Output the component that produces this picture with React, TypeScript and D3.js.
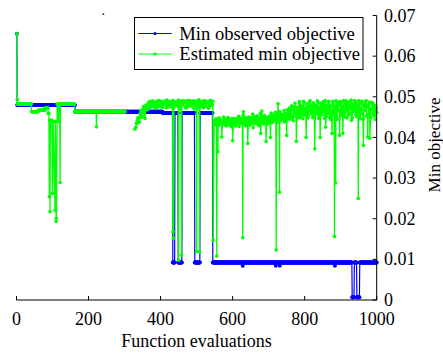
import React from 'react';
import * as d3 from 'd3';

// ---------- data ----------
const xDomain: [number, number] = [0, 1000];
const yDomain: [number, number] = [0, 0.07];
const xTickValues = [0, 200, 400, 600, 800, 1000];
const xTickLabels = ['0', '200', '400', '600', '800', '1000'];
const yTickValues = [0, 0.01, 0.02, 0.03, 0.04, 0.05, 0.06, 0.07];
const yTickLabels = ['0', '0.01', '0.02', '0.03', '0.04', '0.05', '0.06', '0.07'];
const seriesNames = ['Min observed objective', 'Estimated min objective'];
const xLabel = 'Function evaluations';
const yLabel = 'Min objective';

// Min observed objective: runs of constant value [firstEval, lastEval, value]
const minObservedRuns: [number, number, number][] = [
  [1, 1, 0.0655],
  [2, 162, 0.048],
  [163, 405, 0.0463],
  [406, 433, 0.046],
  [434, 439, 0.0092],
  [440, 448, 0.046],
  [449, 459, 0.0092],
  [460, 494, 0.046],
  [495, 509, 0.0092],
  [510, 544, 0.046],
  [545, 627, 0.0092],
  [628, 628, 0.0084],
  [629, 719, 0.0092],
  [720, 720, 0.0084],
  [721, 730, 0.0092],
  [731, 731, 0.0084],
  [732, 883, 0.0092],
  [884, 884, 0.0084],
  [885, 931, 0.0092],
  [932, 937, 0.0007],
  [938, 944, 0.0092],
  [945, 952, 0.0007],
  [953, 1000, 0.0092],
];

// Estimated min objective: constant runs
const estimatedRuns: [number, number, number][] = [
  [1, 1, 0.0655],
  [2, 2, 0.0493],
  [3, 41, 0.0482],
  [42, 60, 0.0463],
  [61, 78, 0.0467],
  [79, 87, 0.0472],
  [88, 90, 0.0459],
  [117, 120, 0.0482],
  [122, 161, 0.0482],
  [162, 221, 0.0463],
  [223, 301, 0.0463],
];

// Estimated min objective: single evaluations [eval, value] (NaN = no estimate)
const estimatedPoints: [number, number][] = [
  [91, 0.0254], [92, 0.0443], [93, 0.0217], [94, 0.044], [98, 0.0443],
  [100, 0.0262], [102, 0.0439], [107, 0.0221], [108, 0.0439], [110, 0.0193],
  [111, 0.0201], [113, 0.0482], [116, 0.0439], [121, 0.0289], [222, 0.0426],
  [315, NaN],
  [434, 0.0168], [436, 0.0152], [450, 0.0098], [458, 0.011],
  [500, 0.0119], [508, 0.0119], [546, 0.0147],
  [556, 0.0108], [559, 0.0365], [628, 0.0153], [721, 0.0123], [730, 0.0265],
  [883, 0.0156], [886, 0.0288], [949, 0.025], [1000, 0.0462],
];

// Estimated min objective: noisy stretch, evaluations 329, 333, ... 545
const noiseAStart = 329;
const noiseAStep = 4;
const noiseAValues = [
  0.042, 0.0434, 0.0448, 0.0438, 0.0465, 0.0452, 0.0476, 0.0447, 0.048, 0.0471,
  0.0488, 0.0474, 0.049, 0.0478, 0.0486, 0.0472, 0.0491, 0.0477, 0.0489, 0.0473,
  0.0487, 0.0481, 0.0492, 0.0475, 0.0488, 0.0479,
  0.049, 0.0474, 0.0487, 0.0479, 0.0492, 0.0471, 0.0486, 0.048, 0.049, 0.0473,
  0.0488, 0.0476, 0.0491, 0.0482, 0.0487, 0.047, 0.0489, 0.0478, 0.0492, 0.0474,
  0.0486, 0.0481, 0.049, 0.0476, 0.0488, 0.0472, 0.0491, 0.0479, 0.0489,
];

// Estimated min objective: noisy stretch, evaluations 331, 335, ... 543
const noiseA2Start = 331;
const noiseA2Step = 4;
const noiseA2Values = [
  0.0425, 0.0441, 0.0436, 0.0458, 0.0449, 0.047, 0.0461, 0.0479, 0.0468, 0.0485,
  0.0476, 0.0483, 0.0489, 0.0474, 0.0487, 0.048, 0.0491, 0.0476, 0.0486, 0.0482,
  0.0489, 0.0473, 0.049, 0.0479, 0.0487, 0.0475, 0.0491, 0.0481, 0.0486, 0.0477,
  0.0489, 0.0474, 0.049, 0.0483, 0.0487, 0.0472, 0.0491, 0.048, 0.0488, 0.0476,
  0.049, 0.0482, 0.0486, 0.0474, 0.0492, 0.0479, 0.0488, 0.0473, 0.049, 0.0484,
  0.0487, 0.0475, 0.0491, 0.0481,
];

// Estimated min objective: noisy stretch, evaluations 549, 552, ... 999
const noiseBStart = 549;
const noiseBStep = 3;
const noiseBValues = [
  0.044, 0.0432, 0.0446, 0.0438, 0.043, 0.0444, 0.0436, 0.0401, 0.0441, 0.0433,
  0.0445, 0.0428, 0.0439, 0.0447, 0.0434, 0.0442, 0.0426, 0.0392, 0.0437, 0.0443,
  0.0431, 0.0446, 0.0438, 0.0427, 0.0444, 0.0435, 0.0441, 0.0463, 0.0436, 0.0429,
  0.0445, 0.0385, 0.044, 0.0432, 0.0448, 0.0437, 0.0424, 0.0443, 0.0451, 0.0434,
  0.0446, 0.0439, 0.0428, 0.041, 0.0465, 0.0441, 0.0433, 0.0449, 0.039, 0.0444,
  0.0437, 0.0452, 0.04, 0.0446, 0.0438, 0.0455, 0.0443, 0.0449, 0.0436, 0.0483,
  0.0447, 0.044, 0.0456, 0.0444, 0.0451, 0.0438, 0.0458, 0.0405, 0.0449, 0.0461,
  0.0445, 0.047, 0.0452, 0.0441, 0.0475, 0.0459, 0.039, 0.0468, 0.0448, 0.0482,
  0.0456, 0.0473, 0.0446, 0.0485, 0.0462, 0.04, 0.0478, 0.0453, 0.0487, 0.0466,
  0.048, 0.0449, 0.0474, 0.0372, 0.0478, 0.0458, 0.0486, 0.0452, 0.04, 0.0481,
  0.0463, 0.0488, 0.0447, 0.0425, 0.0479, 0.0459, 0.0489, 0.0468, 0.0444, 0.041,
  0.0484, 0.0461, 0.0477, 0.045, 0.0487, 0.0466, 0.0405, 0.0482, 0.0457, 0.041,
  0.0486, 0.0464, 0.049, 0.0448, 0.0479, 0.046, 0.0488, 0.0442, 0.0483, 0.0469,
  0.0491, 0.0455, 0.048, 0.0463, 0.0489, 0.0446, 0.0484, 0.0459, 0.038, 0.0478,
  0.0487, 0.0452, 0.0401, 0.0481, 0.0398, 0.047, 0.0486, 0.0458, 0.0479, 0.0444, 0.0473,
];

// Estimated min objective: noisy stretch, evaluations 551, 554, ... 998
const noiseCStart = 551;
const noiseCStep = 3;
const noiseCValues = [
  0.0437, 0.0445, 0.0429, 0.0441, 0.0448, 0.0433, 0.0443, 0.0438, 0.045, 0.0431,
  0.0442, 0.0436, 0.0449, 0.043, 0.0444, 0.0439, 0.0447, 0.0435, 0.0446, 0.0428,
  0.0443, 0.0437, 0.0452, 0.0434, 0.0447, 0.044, 0.0455, 0.0433, 0.0449, 0.0441,
  0.0436, 0.045, 0.043, 0.0446, 0.0439, 0.0457, 0.0435, 0.0448, 0.0442, 0.0453,
  0.0431, 0.0447, 0.0459, 0.0438, 0.045, 0.0436, 0.0454, 0.0443, 0.0448, 0.0433,
  0.0451, 0.044, 0.046, 0.0437, 0.0453, 0.0445, 0.0462, 0.0439, 0.0456, 0.0447,
  0.0463, 0.0442, 0.0457, 0.045, 0.0466, 0.0443, 0.0459, 0.0468, 0.0446, 0.0472,
  0.0455, 0.0478, 0.0449, 0.0466, 0.0484, 0.0452, 0.0474, 0.0461, 0.0488, 0.045,
  0.0477, 0.0464, 0.0489, 0.0455, 0.0471, 0.0483, 0.0448, 0.0476, 0.049, 0.0458,
  0.047, 0.0485, 0.0451, 0.0479, 0.0463, 0.049, 0.0447, 0.0474, 0.0484, 0.0456,
  0.0481, 0.0466, 0.0491, 0.0452, 0.0475, 0.0486, 0.0449, 0.0478, 0.0462, 0.0489,
  0.0457, 0.0473, 0.049, 0.0445, 0.048, 0.0467, 0.0488, 0.0454, 0.0476, 0.0491,
  0.045, 0.0482, 0.0468, 0.0487, 0.0455, 0.0474, 0.0492, 0.0448, 0.0479, 0.0463,
  0.0486, 0.0451, 0.0477, 0.049, 0.0457, 0.047, 0.0489, 0.0445, 0.0483, 0.0466,
  0.049, 0.0456, 0.0475, 0.0487, 0.0448, 0.0469, 0.0484, 0.0453, 0.0478, 0.046,
];

// ---------- helpers ----------
type P = { e: number; v: number };

function expandRuns(runs: [number, number, number][]): P[] {
  const out: P[] = [];
  runs.forEach(([a, b, v]) => {
    for (let e = a; e <= b; e++) out.push({ e, v });
  });
  return out;
}

function seq(start: number, step: number, values: number[]): P[] {
  return values.map((v, i) => ({ e: start + i * step, v }));
}

const minObserved: P[] = expandRuns(minObservedRuns);
const estimated: P[] = [
  ...expandRuns(estimatedRuns),
  ...estimatedPoints.map(([e, v]) => ({ e, v })),
  ...seq(noiseAStart, noiseAStep, noiseAValues),
  ...seq(noiseA2Start, noiseA2Step, noiseA2Values),
  ...seq(noiseBStart, noiseBStep, noiseBValues),
  ...seq(noiseCStart, noiseCStep, noiseCValues),
].sort((a, b) => a.e - b.e);

const BLUE = '#0000ff';
const GREEN = '#00ff00';
const FONT = "'Liberation Serif', 'Times New Roman', serif";

export default function App() {
  const x = d3.scaleLinear().domain(xDomain).range([16.5, 376.7]);
  const y = d3.scaleLinear().domain(yDomain).range([300, 15.5]);
  const line = d3
    .line<P>()
    .defined((d) => !isNaN(d.v))
    .x((d) => x(d.e))
    .y((d) => y(d.v));

  const left = x(xDomain[0]);
  const right = x(xDomain[1]);
  const bottom = y(yDomain[0]);
  const top = y(yDomain[1]);
  const tickLen = 4;

  const legendRows = [
    { name: seriesNames[0], color: BLUE, cy: 33.5 },
    { name: seriesNames[1], color: GREEN, cy: 54 },
  ];

  return (
    <svg
      width={443}
      height={355}
      style={{ position: 'absolute', left: 0, top: 0, background: '#fff' }}
      fontFamily={FONT}
    >
      <rect x={0} y={0} width={443} height={355} fill="#fff" />
      {/* series */}
      <g>
        <path d={line(minObserved) || ''} fill="none" stroke={BLUE} strokeWidth={1.2} />
        {minObserved.map((d, i) => (
          <circle key={'b' + i} cx={x(d.e)} cy={y(d.v)} r={2} fill={BLUE} />
        ))}
        <path d={line(estimated) || ''} fill="none" stroke={GREEN} strokeWidth={1.3} />
        {estimated
          .filter((d) => !isNaN(d.v))
          .map((d, i) => (
            <circle key={'g' + i} cx={x(d.e)} cy={y(d.v)} r={1.8} fill={GREEN} />
          ))}
      </g>
      {/* axes */}
      <g stroke="#000" strokeWidth={1} fill="none">
        <line x1={left} x2={right} y1={bottom} y2={bottom} />
        <line x1={right} x2={right} y1={top} y2={bottom} />
        {xTickValues.map((t) => (
          <line key={'xt' + t} x1={x(t)} x2={x(t)} y1={bottom} y2={bottom - tickLen} />
        ))}
        {yTickValues.map((t) => (
          <line key={'yt' + t} x1={right - tickLen} x2={right} y1={y(t)} y2={y(t)} />
        ))}
      </g>
      <g fontSize={18} fill="#000">
        {xTickValues.map((t, i) => (
          <text key={'xl' + t} x={x(t)} y={324.5} textAnchor="middle">
            {xTickLabels[i]}
          </text>
        ))}
        {yTickValues.map((t, i) => (
          <text key={'yl' + t} x={384} y={y(t)} dy="0.34em" textAnchor="start">
            {yTickLabels[i]}
          </text>
        ))}
      </g>
      <text x={196.6} y={346.5} fontSize={18} textAnchor="middle" fill="#000">
        {xLabel}
      </text>
      <text
        transform={`translate(439.5,145) rotate(-90)`}
        fontSize={17}
        textAnchor="middle"
        fill="#000"
      >
        {yLabel}
      </text>
      <text x={103.3} y={14.5} fontSize={14} textAnchor="middle" fill="#000">
        .
      </text>
      {/* legend */}
      <g>
        <rect x={134.5} y={17.5} width={228.5} height={52} fill="#fff" stroke="#000" strokeWidth={1} />
        {legendRows.map((r) => (
          <g key={r.name}>
            <line x1={138.3} x2={171.7} y1={r.cy} y2={r.cy} stroke={r.color} strokeWidth={1} />
            <circle cx={155} cy={r.cy} r={1.6} fill={r.color} />
            <text x={179.3} y={r.cy} dy="0.33em" fontSize={18.6} fill="#000">
              {r.name}
            </text>
          </g>
        ))}
      </g>
    </svg>
  );
}
